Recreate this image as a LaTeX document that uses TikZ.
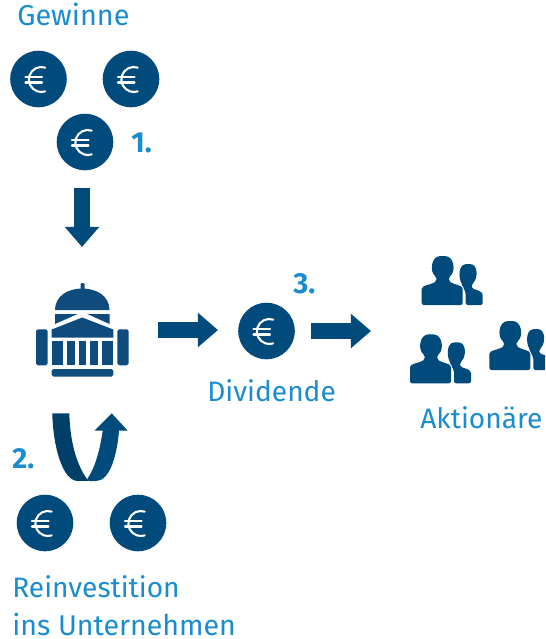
\documentclass[tikz,border=0pt]{standalone}
\usepackage{fontspec}
\setmainfont{Fira Sans}
\usetikzlibrary{arrows.meta}
\definecolor{navy}{HTML}{004B7C}
\definecolor{navydark}{HTML}{003F68}
\definecolor{bldg}{HTML}{0F4C7D}
\definecolor{sky}{HTML}{1A8CCF}
\tikzset{
  x=0.02cm,y=-0.02cm,
  coin/.style={circle,fill=navy,draw=none,minimum size=16.1pt*2,inner sep=0pt},
  label/.style={text=sky,anchor=base west,inner sep=0pt,font=\fontsize{16}{16}\selectfont},
  num/.style={text=sky,anchor=base west,inner sep=0pt,font=\fontsize{16.5}{16}\selectfont\bfseries},
  blockarrow/.style={navy,line width=9.2pt,-{Triangle[length=11.5pt,width=19pt]}},
  euro/.pic={
    \draw[white,line width=1.2pt,line cap=round] (6.7,-11.4) arc[start angle=-72,end angle=-288,radius=12.5];
    \draw[white,line width=1.2pt,line cap=round] (-13,-2) -- (3.5,-2) (-13,3.5) -- (3.5,3.5);
  },
  people/.pic={
    \fill[navy,rounded corners=1.2pt] (0,0) -- (0,-14) .. controls (0,-20) and (9,-20) .. (15,-24) -- (15,-28) .. controls (8,-33) and (9,-49) .. (21,-49) .. controls (33,-49) and (34,-33) .. (27,-28) -- (27,-24) .. controls (33,-20) and (41,-20) .. (41,-14) -- (41,0) -- cycle;
    \fill[navy,rounded corners=1.2pt] (44,0) -- (44,-13) -- (41,-18) -- (41,-20) .. controls (37,-26) and (36,-40) .. (46,-41) .. controls (57,-41) and (56,-26) .. (50,-21) -- (50,-17) .. controls (54,-15) and (61,-14) .. (61,-8) -- (61,0) -- cycle;
  },
}
\begin{document}
\begin{tikzpicture}
\useasboundingbox (0,0) rectangle (545,639);
\clip (0,0) rectangle (545,639);
% labels
\node[label,font=\fontsize{16.4}{16}\selectfont] (gewinne) at (17,26) {Gewinne};
\node[num] (n1) at (131,152) {1.};
\node[num] (n2) at (12,468) {2.};
\node[num] (n3) at (293,293) {3.};
\node[label] (dividende) at (207,401) {Dividende};
\node[label] (aktionaere) at (420,428) {Aktionäre};
\node[label] (reinv) at (12,597) {Reinvestition};
\node[label,font=\fontsize{16.25}{16}\selectfont] (ins) at (12,635) {ins Unternehmen};
% coins
\foreach \n/\cx/\cy in {c1/38.5/79,c2/131/79,c3/85/142,c4/45/523,c5/138/523,c6/266.5/331}{
  \node[coin] (\n) at (\cx,\cy) {};
  \pic at (\n) {euro};
}
% block arrows
\coordinate (a1s) at (82,188); \coordinate (a1e) at (82,247);
\coordinate (a2s) at (158,330); \coordinate (a2e) at (218,330);
\coordinate (a3s) at (311,331); \coordinate (a3e) at (371,331);
\draw[blockarrow] (a1s) -- (a1e);
\draw[blockarrow] (a2s) -- (a2e);
\draw[blockarrow] (a3s) -- (a3e);
% building
\begin{scope}[bldg]
\fill[rounded corners=0.6pt] (80.5,296) -- (80.5,283) -- (84.5,283) -- (84.5,296) -- cycle;
\fill (55,310) .. controls (55,296) and (68,288.5) .. (82.3,288.5) .. controls (96.5,288.5) and (109.5,296) .. (109.5,310) -- cycle;
\fill (55,314) -- (77.5,314) -- (55,324) -- cycle;
\fill (87.3,314) -- (109.5,314) -- (109.5,324) -- cycle;
\fill (51.7,329.5) -- (82.3,317.5) -- (113.3,329.5) -- (113.3,337.7) -- (51.7,337.7) -- cycle;
\fill (51.7,341.3) rectangle (63.3,365.3);
\fill (67,341.3) rectangle (75,365.3);
\fill (78.7,341.3) rectangle (86.3,365.3);
\fill (90,341.3) rectangle (98,365.3);
\fill (101.7,341.3) rectangle (113.3,365.3);
\fill[rounded corners=1pt] (36,329.3) rectangle (47.7,365.3);
\fill[rounded corners=1pt] (117.3,329.3) rectangle (128.7,365.3);
\fill[rounded corners=1pt] (51.7,369) rectangle (113.3,376.7);
\end{scope}
% U-turn arrow
\fill[navy] (111.7,413.3) -- (94.3,430.7) -- (102.7,430.7) .. controls (100,450) and (95,468) .. (87,479.5) -- (89,481) -- (96,481) .. controls (110,481) and (117,455) .. (119,430.7) -- (127.7,430.7) -- cycle;
\fill[navydark] (52.3,413.3) -- (69.3,413.3) .. controls (70,440) and (76,465) .. (88.3,480.8) -- (78,481) .. controls (62,481) and (53,445) .. (52.3,413.3) -- cycle;
% people
\pic at (421.7,305) {people};
\pic at (410,383.3) {people};
\pic at (489.3,370) {people};
\end{tikzpicture}
\end{document}
